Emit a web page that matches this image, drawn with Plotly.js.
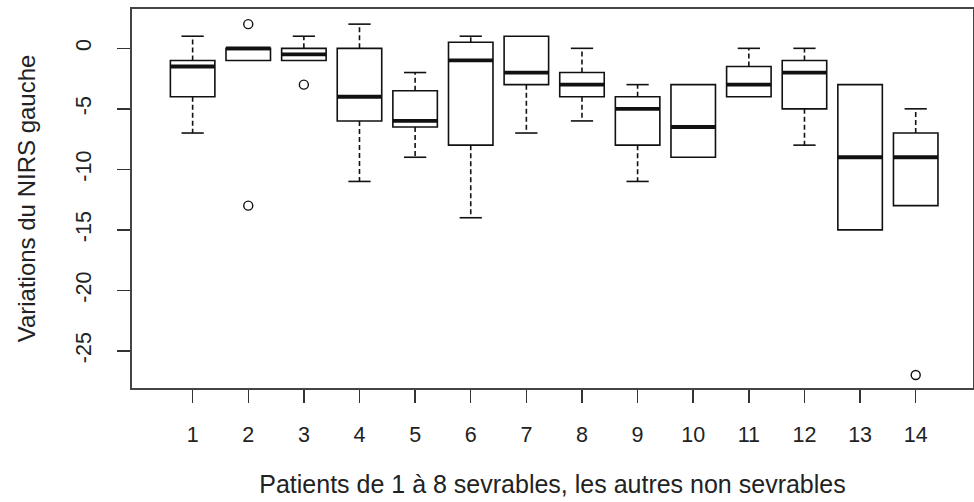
<!DOCTYPE html>
<html>
<head>
<meta charset="utf-8">
<script src="https://cdn.plot.ly/plotly-3.0.1.min.js"></script>
<style>
  html, body { margin: 0; padding: 0; background: #fff; }
  #chart { width: 974px; height: 502px; }
</style>
</head>
<body>
<div id="chart"></div>
<script>
// Patients 1..14
const patients = [1, 2, 3, 4, 5, 6, 7, 8, 9, 10, 11, 12, 13, 14];
const tickLabels = ["1","2","3","4","5","6","7","8","9","10","11","12","13","14"];
// Box statistics
const lowerWhisker = [-7, -1, -1, -11, -9, -14, -7, -6, -11, -9, -4, -8, -15, -13];
const q1Values     = [-4, -1, -1, -6, -6.5, -8, -3, -4, -8, -9, -4, -5, -15, -13];
const medianValues = [-1.5, 0, -0.5, -4, -6, -1, -2, -3, -5, -6.5, -3, -2, -9, -9];
const q3Values     = [-1, 0, 0, 0, -3.5, 0.5, 1, -2, -4, -3, -1.5, -1, -3, -7];
const upperWhisker = [1, 0, 1, 2, -2, 1, 1, 0, -3, -3, 0, 0, -3, -5];
// Outliers
const outlierPatient = [2, 2, 3, 14];
const outlierValue   = [2, -13, -3, -27];
const yTicks = [0, -5, -10, -15, -20, -25];

const BOX_HALF = 0.4, STAPLE_HALF = 0.2;
const ink = '#111';

// dashed whiskers and staples built from the statistics
const wx = [], wy = [], sx = [], sy = [], mx = [], my = [];
patients.forEach((p, i) => {
  if (upperWhisker[i] > q3Values[i]) {
    wx.push(p, p, null); wy.push(q3Values[i], upperWhisker[i], null);
    sx.push(p - STAPLE_HALF, p + STAPLE_HALF, null); sy.push(upperWhisker[i], upperWhisker[i], null);
  }
  if (lowerWhisker[i] < q1Values[i]) {
    wx.push(p, p, null); wy.push(q1Values[i], lowerWhisker[i], null);
    sx.push(p - STAPLE_HALF, p + STAPLE_HALF, null); sy.push(lowerWhisker[i], lowerWhisker[i], null);
  }
  mx.push(p - BOX_HALF, p + BOX_HALF, null); my.push(medianValues[i], medianValues[i], null);
});

const traces = [
  {
    type: 'box', x: patients,
    q1: q1Values, median: medianValues, q3: q3Values,
    lowerfence: q1Values, upperfence: q3Values,
    width: 2 * BOX_HALF, whiskerwidth: 0, boxpoints: false,
    fillcolor: 'rgba(255,255,255,0)', line: { color: ink, width: 1.6 },
    hoverinfo: 'skip'
  },
  { type: 'scatter', mode: 'lines', x: wx, y: wy, line: { color: ink, width: 1.6, dash: '5px,3px' }, hoverinfo: 'skip' },
  { type: 'scatter', mode: 'lines', x: sx, y: sy, line: { color: ink, width: 1.6 }, hoverinfo: 'skip' },
  { type: 'scatter', mode: 'lines', x: mx, y: my, line: { color: ink, width: 3.8 }, hoverinfo: 'skip' },
  { type: 'scatter', mode: 'markers', x: outlierPatient, y: outlierValue,
    marker: { symbol: 'circle-open', size: 9, color: ink, line: { width: 1.4, color: ink } }, hoverinfo: 'skip' }
];

const font = { family: 'Liberation Sans, Arial, sans-serif', color: '#222' };
const layout = {
  width: 974, height: 502,
  margin: { l: 132, r: 1, t: 9, b: 114 },
  paper_bgcolor: '#fff', plot_bgcolor: '#fff',
  showlegend: false, hovermode: false,
  font: font,
  xaxis: {
    range: [-0.09, 15.03],
    tickmode: 'array', tickvals: patients, ticktext: tickLabels,
    ticks: 'outside', ticklen: 13, tickwidth: 1.5, tickcolor: '#333',
    tickfont: { size: 21.5, color: '#222' },
    ticklabelstandoff: 13,
    showline: true, mirror: true, linecolor: '#444', linewidth: 2,
    showgrid: false, zeroline: false,
    title: { text: 'Patients de 1 à 8 sevrables, les autres non sevrables', font: { size: 25, color: '#222' }, standoff: 30 }
  },
  yaxis: {
    range: [-28.07, 3.25],
    tickmode: 'array', tickvals: yTicks, ticktext: yTicks.map(String),
    tickangle: -90,
    ticks: 'outside', ticklen: 13, tickwidth: 1.5, tickcolor: '#333',
    tickfont: { size: 21.5, color: '#222' },
    ticklabelstandoff: 17,
    showline: true, mirror: true, linecolor: '#444', linewidth: 2,
    showgrid: false, zeroline: false,
    title: { text: 'Variations du NIRS gauche', font: { size: 24, color: '#222' }, standoff: 30 }
  }
};

Plotly.newPlot('chart', traces, layout, { displayModeBar: false, staticPlot: true });
</script>
</body>
</html>
